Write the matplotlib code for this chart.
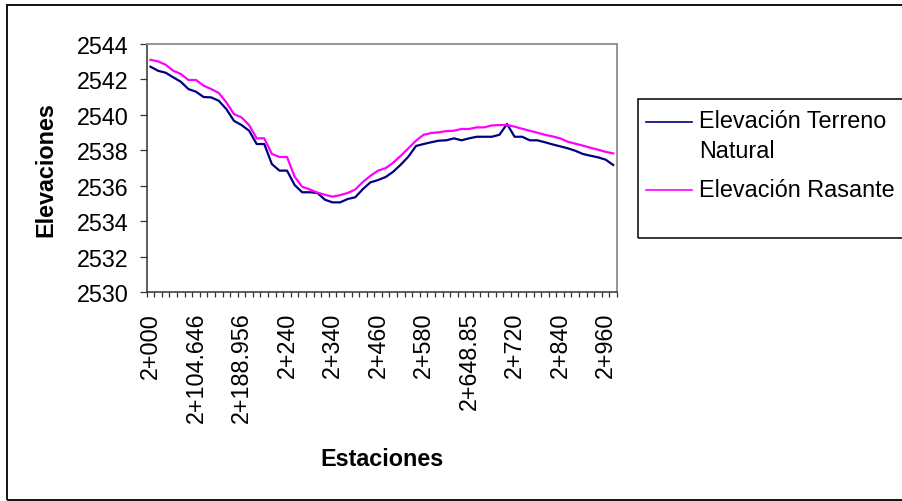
import numpy as np
import matplotlib.pyplot as plt
from matplotlib.patches import Rectangle
from matplotlib.lines import Line2D

plt.rcParams['font.family'] = ['Liberation Sans', 'DejaVu Sans']

# elevaciones (una por estacion)
terreno = [2542.72, 2542.49, 2542.38, 2542.12, 2541.87, 2541.46, 2541.31, 2541.01,
           2540.99, 2540.80, 2540.33, 2539.67, 2539.43, 2539.11, 2538.36, 2538.36,
           2537.23, 2536.86, 2536.86, 2536.05, 2535.64, 2535.64, 2535.60, 2535.22,
           2535.07, 2535.07, 2535.26, 2535.36, 2535.82, 2536.20, 2536.33, 2536.50,
           2536.80, 2537.20, 2537.65, 2538.25, 2538.36, 2538.46, 2538.55, 2538.57,
           2538.68, 2538.57, 2538.68, 2538.77, 2538.77, 2538.77, 2538.88, 2539.49,
           2538.77, 2538.77, 2538.57, 2538.57, 2538.46, 2538.34, 2538.23, 2538.12,
           2537.98, 2537.80, 2537.70, 2537.61, 2537.48, 2537.18]
rasante = [2543.11, 2543.02, 2542.83, 2542.49, 2542.31, 2541.97, 2541.97, 2541.65,
           2541.46, 2541.24, 2540.71, 2540.05, 2539.86, 2539.43, 2538.68, 2538.68,
           2537.80, 2537.63, 2537.63, 2536.52, 2535.95, 2535.80, 2535.62, 2535.50,
           2535.39, 2535.48, 2535.60, 2535.80, 2536.22, 2536.57, 2536.86, 2537.00,
           2537.31, 2537.70, 2538.12, 2538.55, 2538.88, 2538.98, 2539.02, 2539.09,
           2539.11, 2539.21, 2539.21, 2539.30, 2539.30, 2539.41, 2539.43, 2539.43,
           2539.34, 2539.22, 2539.11, 2539.00, 2538.88, 2538.79, 2538.68, 2538.49,
           2538.38, 2538.27, 2538.15, 2538.04, 2537.92, 2537.83]
etiquetas = ['2+000', '2+104.646', '2+188.956', '2+240', '2+340', '2+460',
             '2+580', '2+648.85', '2+720', '2+840', '2+960']
y_ticks = [2530, 2532, 2534, 2536, 2538, 2540, 2542, 2544]

W, H = 902, 502
fs = 16.8
fig = plt.figure(figsize=(W / 100, H / 100), dpi=100)
ax = fig.add_axes([146.7 / W, 1 - 293.3 / H, (617 - 146.7) / W, (293.3 - 45) / H])

x = np.arange(len(terreno))
ax.plot(x, terreno, color='#000080', lw=1.6)
ax.plot(x, rasante, color='#FF00FF', lw=1.6)

ax.set_xlim(-0.5, len(terreno) - 0.5)
ax.set_ylim(2530, 2544)
ax.set_yticks(y_ticks)
ax.set_xticks(x[::6], etiquetas, rotation=90)
ax.set_xticks(np.arange(-0.5, len(terreno), 1), minor=True)
ax.tick_params(axis='x', which='major', length=0, pad=14, labelsize=fs)
ax.tick_params(axis='x', which='minor', length=3.8, width=0.9, color='#333333')
ax.tick_params(axis='y', length=5, width=0.9, pad=8, labelsize=fs, color='#333333')

for s in ['top', 'right']:
    ax.spines[s].set_color('#8c8c8c')
    ax.spines[s].set_linewidth(1.3)
for s in ['left', 'bottom']:
    ax.spines[s].set_color('#333333')
    ax.spines[s].set_linewidth(1.1)

ax.set_xlabel('Estaciones', fontsize=fs, fontweight='bold', va='center')
ax.xaxis.set_label_coords(0.5, (293.3 - 460) / (293.3 - 45))
ax.set_ylabel('Elevaciones', fontsize=fs, fontweight='bold', va='center')
ax.yaxis.set_label_coords((46 - 146.7) / (617 - 146.7), 0.5)

# leyenda (el cuadro sale por el borde derecho, como en el original)
fig.add_artist(Rectangle((637.7 / W, 1 - 239.3 / H), 300 / W, 139.3 / H,
                         transform=fig.transFigure, fill=False, ec='black', lw=1.1))
fig.add_artist(Line2D([646 / W, 691.7 / W], [1 - 122.7 / H] * 2,
                      transform=fig.transFigure, color='#000080', lw=1.2))
fig.add_artist(Line2D([646 / W, 691.7 / W], [1 - 190.7 / H] * 2,
                      transform=fig.transFigure, color='#FF00FF', lw=1.2))
fig.text(699.3 / W, 1 - 127.7 / H, 'Elevación Terreno', fontsize=fs, va='baseline')
fig.text(699.3 / W, 1 - 158.3 / H, 'Natural', fontsize=fs, va='baseline')
fig.text(699.3 / W, 1 - 196.7 / H, 'Elevación Rasante', fontsize=fs, va='baseline')

# borde exterior
fig.add_artist(Rectangle((6.7 / W, 1 - 500.5 / H), 1.1, 494.5 / H,
                         transform=fig.transFigure, fill=False, ec='black', lw=1.3))

fig.savefig('out.png', dpi=100)
